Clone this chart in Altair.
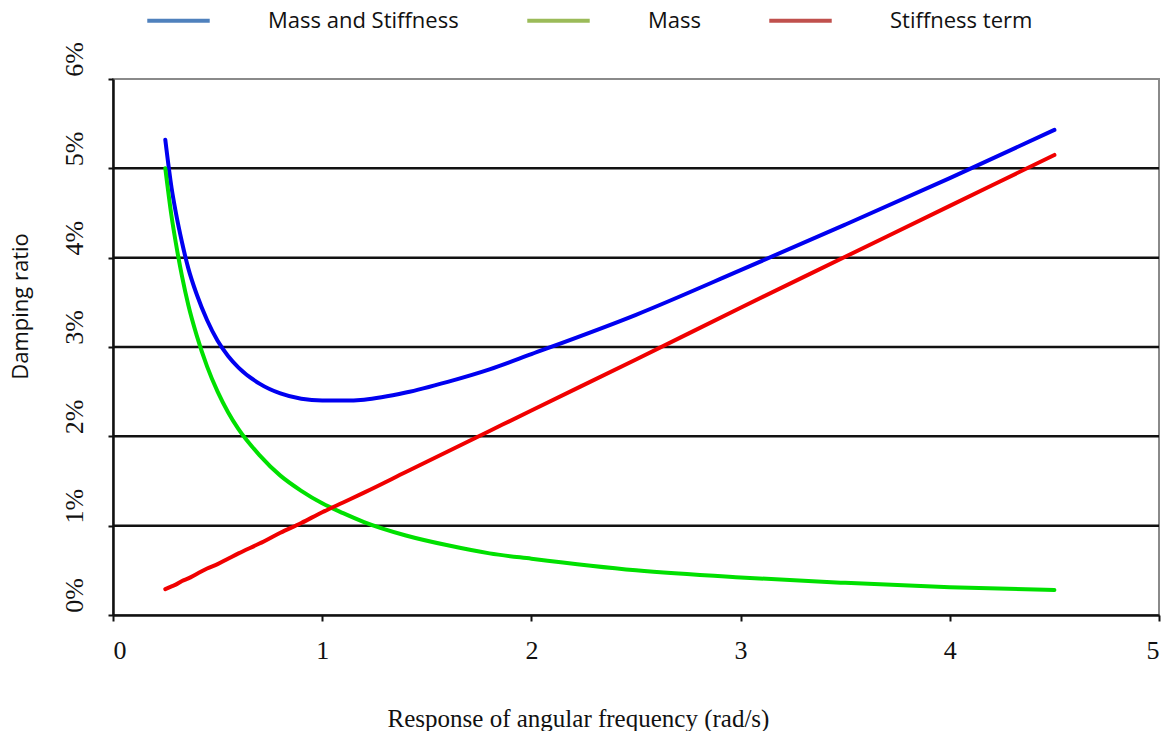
import altair as alt
import pandas as pd

# angular frequency (rad/s)
omega = [0.25, 0.28, 0.3, 0.33, 0.36, 0.4, 0.45, 0.5, 0.55, 0.6, 0.7, 0.8, 0.9,
         1.0, 1.1, 1.2, 1.4, 1.6, 1.8, 2.0, 2.5, 3.0, 3.5, 4.0, 4.5]
# damping ratio (%)
mass_and_stiffness = [5.32, 4.78, 4.51, 4.17, 3.88, 3.59, 3.30, 3.07, 2.90, 2.77, 2.59, 2.48, 2.42,
                      2.40, 2.40, 2.41, 2.49, 2.61, 2.75, 2.92, 3.36, 3.86, 4.37, 4.89, 5.43]
mass = [5.00, 4.46, 4.17, 3.79, 3.47, 3.13, 2.78, 2.50, 2.27, 2.08, 1.79, 1.56, 1.39,
        1.25, 1.14, 1.04, 0.89, 0.78, 0.69, 0.63, 0.50, 0.42, 0.36, 0.31, 0.28]
stiffness = [0.29, 0.32, 0.34, 0.38, 0.41, 0.46, 0.52, 0.57, 0.63, 0.69, 0.80, 0.92, 1.03,
             1.15, 1.26, 1.37, 1.60, 1.83, 2.06, 2.29, 2.86, 3.44, 4.01, 4.58, 5.15]

series_names = ["Mass and Stiffness", "Mass", "Stiffness term"]
legend_colors = ["#4F81BD", "#9BBB59", "#C0504D"]
line_colors = ["#0000F0", "#00E000", "#F00000"]
grid_values = [1, 2, 3, 4, 5]
x_ticks = [0, 1, 2, 3, 4, 5]
y_ticks = [0, 1, 2, 3, 4, 5, 6]

rows = []
for name, vals in zip(series_names, [mass_and_stiffness, mass, stiffness]):
    for i, (w, v) in enumerate(zip(omega, vals)):
        rows.append({"omega": w, "ratio": v, "series": name, "order": i})
df = pd.DataFrame(rows)
grid_df = pd.DataFrame({"g": grid_values})

serif = "Liberation Serif"
sans = "Open Sans"

x_enc = alt.X("omega:Q", scale=alt.Scale(domain=[0, 5], nice=False),
              axis=alt.Axis(values=x_ticks, format="d", grid=False,
                            title="Response of angular frequency (rad/s)",
                            titleFont=serif, titleFontSize=25, titleFontWeight="normal",
                            titleColor="#111", titleX=465, titleY=111,
                            titleAlign="center", titleBaseline="alphabetic",
                            labelFont=serif, labelFontSize=26, labelColor="#111",
                            labelBaseline="middle", labelPadding=29,
                            tickSize=6, tickColor="#111", tickWidth=2,
                            domainColor="#111", domainWidth=2.5))
y_enc = alt.Y("ratio:Q", scale=alt.Scale(domain=[0, 6], nice=False),
              axis=alt.Axis(values=y_ticks, grid=False,
                            labelExpr="datum.value + '%'",
                            title="Damping ratio",
                            titleFont=sans, titleFontSize=22, titleFontWeight="normal",
                            titleColor="#111", titleAngle=270, titleX=-93, titleY=227,
                            titleAlign="center", titleBaseline="middle",
                            labelFont=serif, labelFontSize=26, labelColor="#111",
                            labelAngle=270, labelAlign="center", labelBaseline="middle",
                            labelPadding=34, labelOffset=-20,
                            tickSize=5, tickColor="#111", tickWidth=2,
                            domainColor="#111", domainWidth=2.5))

grid = alt.Chart(grid_df).mark_rule(color="#111", strokeWidth=2.5).encode(
    y=alt.Y("g:Q", scale=alt.Scale(domain=[0, 6], nice=False))
)

lines = alt.Chart(df).mark_line(strokeWidth=4, interpolate="monotone", strokeCap="round").encode(
    x=x_enc,
    y=y_enc,
    stroke=alt.Stroke("series:N",
                      scale=alt.Scale(domain=series_names, range=line_colors),
                      legend=None),
    order="order:Q",
)

legend_layer = alt.Chart(df).mark_line(strokeWidth=4, opacity=0).encode(
    x="omega:Q",
    y="ratio:Q",
    color=alt.Color("series:N",
                    scale=alt.Scale(domain=series_names, range=legend_colors),
                    legend=alt.Legend(title=None, orient="none", direction="horizontal",
                                      legendX=32, legendY=-92,
                                      symbolType="stroke", symbolSize=3900,
                                      symbolStrokeWidth=4, symbolOpacity=1,
                                      labelOffset=56, labelLimit=0,
                                      columnPadding=60, labelFont=sans, labelFontSize=22,
                                      labelColor="#111", padding=0)),
)

chart = alt.layer(grid, legend_layer, lines).resolve_scale(
    color="independent", stroke="independent"
).properties(
    width=1046, height=536,
    autosize=alt.AutoSizeParams(type="none"),
    padding={"left": 113, "top": 79, "right": 4, "bottom": 116},
    background="white",
).configure_view(stroke="#8a8a8a", strokeWidth=2)

chart.save("out.html", embed_options={"renderer": "svg", "actions": False})
